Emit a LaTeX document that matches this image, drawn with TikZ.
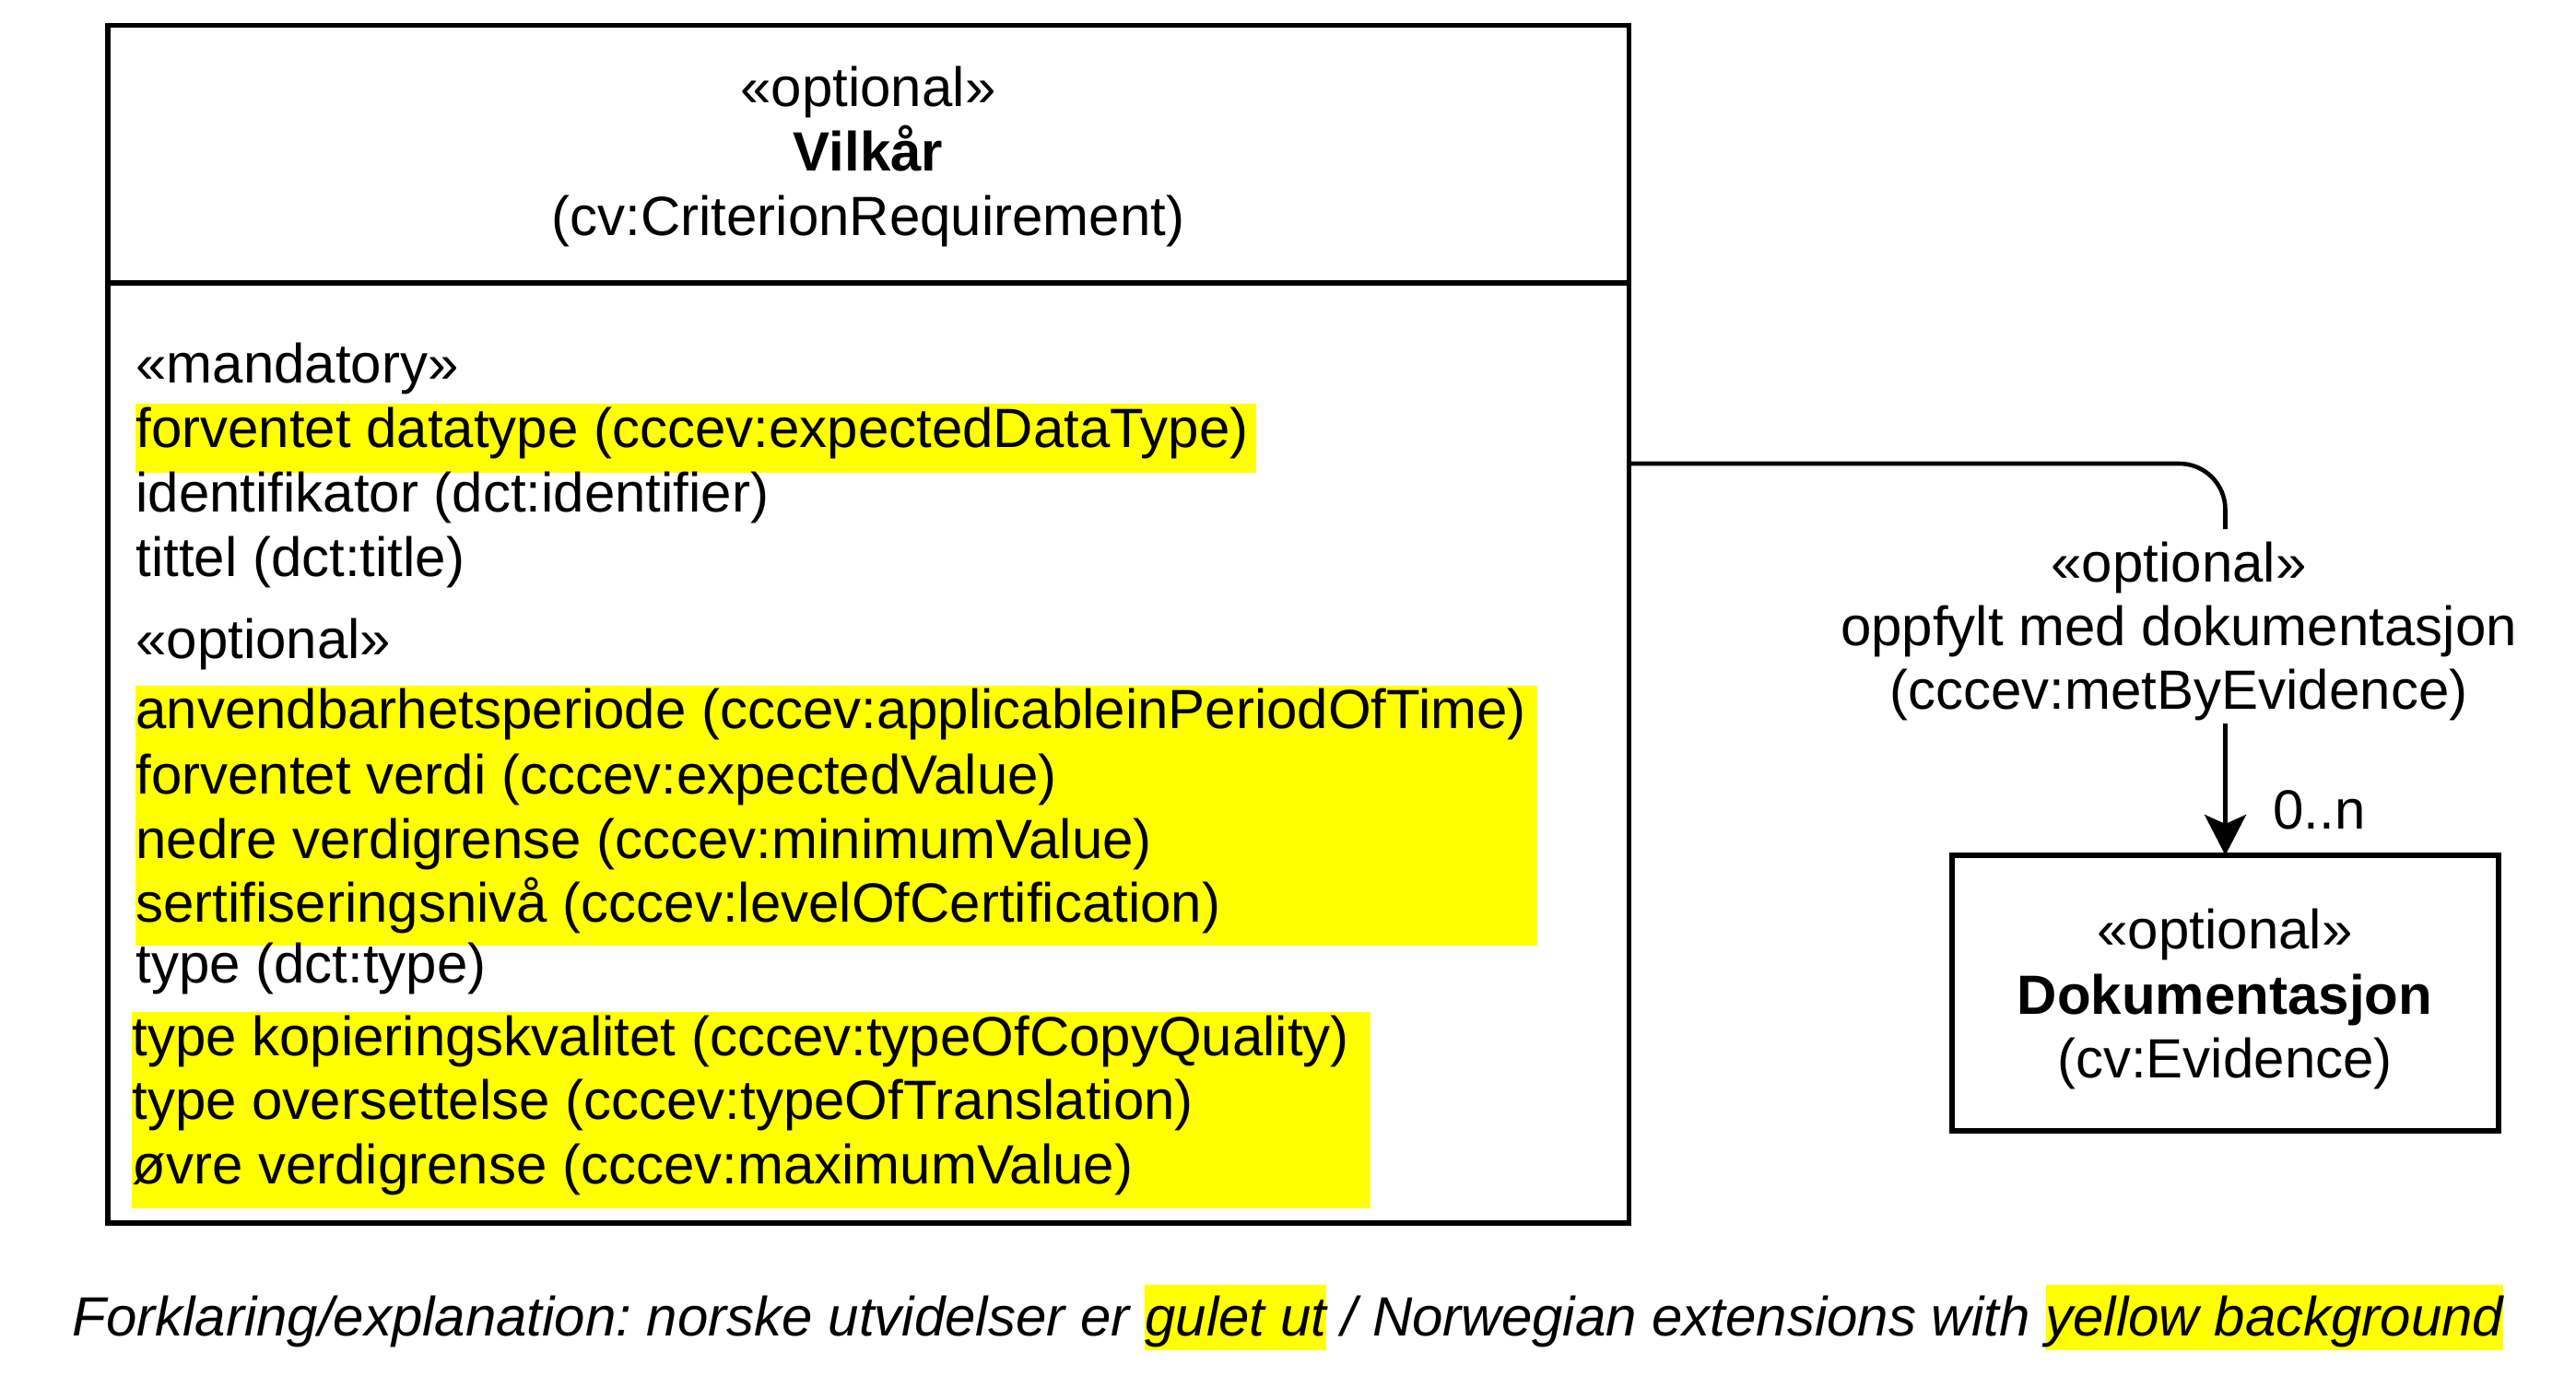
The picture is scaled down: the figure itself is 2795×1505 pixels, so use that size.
\documentclass[tikz,border=0pt]{standalone}
\usepackage{fontspec}
\setmainfont{Liberation Sans}
\usetikzlibrary{arrows.meta}
\definecolor{hl}{RGB}{255,255,0}
\newcommand{\hlbox}[1]{{\setlength{\fboxsep}{0pt}\colorbox{hl}{\rule[-8pt]{0pt}{35.5pt}#1}}}
\frenchspacing
\begin{document}
\begin{tikzpicture}[x=0.5pt,y=-0.5pt,
  txt/.style={inner sep=0pt, font=\fontsize{30pt}{34.75pt}\selectfont},
  attr/.style={txt, anchor=base west},
  ctr/.style={txt, anchor=base},
  classbox/.style={draw, line width=2.8pt, inner sep=0pt, outer sep=0pt},
  conn/.style={line width=2.3pt},
  hlfill/.style={fill=hl, draw=none}]
\useasboundingbox (0,0) rectangle (2795,1505);

% highlight backgrounds
\fill[hlfill] (147,437.5) rectangle (1363,512.5);
\fill[hlfill] (147,744) rectangle (1668,1026);
\fill[hlfill] (143,1098) rectangle (1487,1311);

% main class box
\node[classbox, minimum width=825.25pt, minimum height=649.75pt] (vilkar) at (942.25,677.25) {};
\coordinate (sepL) at (117,307);
\coordinate (sepR) at (1767.5,307);
\draw[line width=2.8pt] (sepL) -- (sepR);

\node[ctr] (v1) at (942,115) {«optional»};
\node[ctr] (v2) at (942,185) {\bfseries Vilkår};
\node[ctr] (v3) at (942,255) {(cv:CriterionRequirement)};

\node[attr] (a1) at (147,415.5) {«mandatory»};
\node[attr] (a2) at (147,485.5) {forventet datatype (cccev:expectedDataType)};
\node[attr] (a3) at (147,555) {identifikator (dct:identifier)};
\node[attr] (a4) at (147,625) {tittel (dct:title)};
\node[attr] (a5) at (147,714) {«optional»};
\node[attr] (a6) at (147,790) {anvendbarhetsperiode (cccev:applicableinPeriodOfTime)};
\node[attr] (a7) at (147,861) {forventet verdi (cccev:expectedValue)};
\node[attr] (a8) at (147,931) {nedre verdigrense (cccev:minimumValue)};
\node[attr] (a9) at (147,1000) {sertifiseringsnivå (cccev:levelOfCertification)};
\node[attr] (a10) at (147,1066) {type (dct:type)};
\node[attr] (a11) at (143,1145) {type kopieringskvalitet (cccev:typeOfCopyQuality)};
\node[attr] (a12) at (143,1214) {type oversettelse (cccev:typeOfTranslation)};
\node[attr] (a13) at (143,1284) {øvre verdigrense (cccev:maximumValue)};

% evidence class box
\node[classbox, minimum width=296.5pt, minimum height=149.5pt] (doc) at (2414.5,1077.5) {};
\node[ctr] (d1) at (2414,1029) {«optional»};
\node[ctr] (d2) at (2414,1100) {\bfseries Dokumentasjon};
\node[ctr] (d3) at (2414,1169) {(cv:Evidence)};

% association
\coordinate (cstart) at (1767.5,503);
\coordinate (cmid) at (2414.5,574);
\coordinate (cresume) at (2414.5,785);
\draw[conn, rounded corners=25pt] (cstart) -| (cmid);
\draw[conn, -{Stealth[length=22pt,width=22.5pt,inset=5pt]}] (cresume) -- (doc.north);

\node[ctr] (l1) at (2364,631) {«optional»};
\node[ctr] (l2) at (2364,700) {oppfylt med dokumentasjon};
\node[ctr] (l3) at (2364,769) {(cccev:metByEvidence)};
\node[attr] (mult) at (2466,899) {0..n};

% legend
\node[attr] (legend) at (78,1449) {\itshape Forklaring/explanation: norske utvidelser er \hlbox{gulet ut} / Norwegian extensions with \hlbox{yellow background}};
\end{tikzpicture}
\end{document}
